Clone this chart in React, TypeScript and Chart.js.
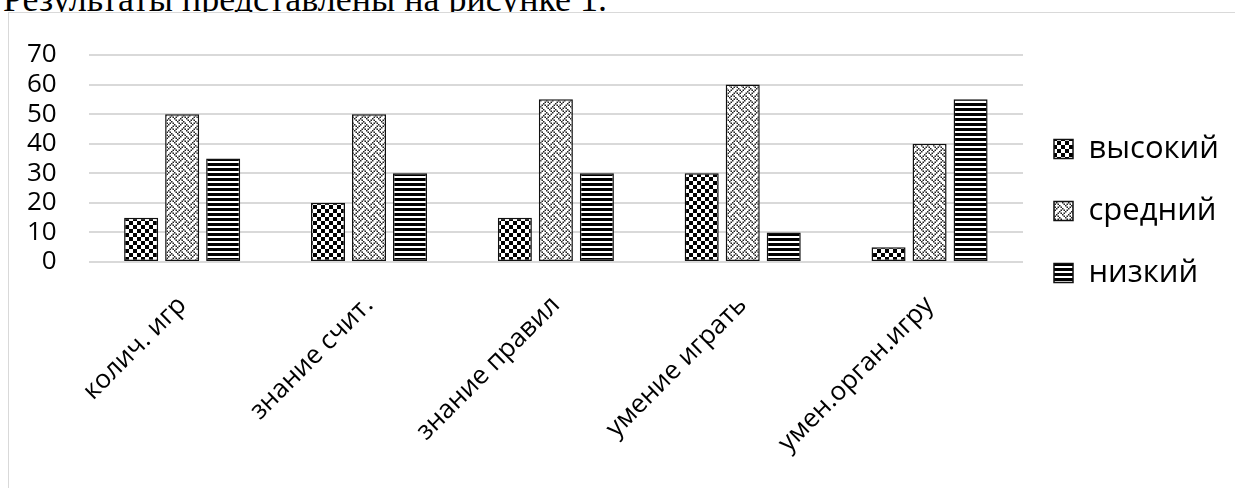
import React, { useEffect, useRef } from 'react';
import { Chart, registerables } from 'chart.js';

Chart.register(...registerables);

const categories = ['колич. игр', 'знание счит.', 'знание правил', 'умение играть', 'умен.орган.игру'];
const seriesNames = ['высокий', 'средний', 'низкий'];
const highValues = [15, 20, 15, 30, 5];
const midValues = [50, 50, 55, 60, 40];
const lowValues = [35, 30, 30, 10, 55];
const yTicks = [0, 10, 20, 30, 40, 50, 60, 70];

const weaveBits = [
  '10001000',
  '01010100',
  '00100010',
  '01000101',
  '10001000',
  '00010101',
  '00100010',
  '01010001',
];

function makeTile(w: number, h: number, draw: (g: CanvasRenderingContext2D) => void) {
  const c = document.createElement('canvas');
  c.width = w;
  c.height = h;
  const g = c.getContext('2d') as CanvasRenderingContext2D;
  g.fillStyle = '#ffffff';
  g.fillRect(0, 0, w, h);
  draw(g);
  return c;
}

function makePatterns(ctx: CanvasRenderingContext2D) {
  const checker = makeTile(8, 8, (g) => {
    g.fillStyle = '#000000';
    g.fillRect(0, 0, 4, 4);
    g.fillRect(4, 4, 4, 4);
  });
  const weave = makeTile(12, 12, (g) => {
    g.fillStyle = '#222222';
    weaveBits.forEach((row, r) => {
      for (let c = 0; c < row.length; c++) {
        if (row[c] === '1') g.fillRect(c * 1.5, r * 1.5, 1.5, 1.5);
      }
    });
  });
  const stripes = makeTile(4, 5, (g) => {
    g.fillStyle = '#000000';
    g.fillRect(0, 0, 4, 3);
  });
  return [
    ctx.createPattern(checker, 'repeat'),
    ctx.createPattern(weave, 'repeat'),
    ctx.createPattern(stripes, 'repeat'),
  ];
}

export default function App() {
  const ref = useRef<HTMLCanvasElement | null>(null);

  useEffect(() => {
    const canvas = ref.current;
    if (!canvas) return;
    const ctx = canvas.getContext('2d') as CanvasRenderingContext2D;
    const patterns = makePatterns(ctx);
    const values = [highValues, midValues, lowValues];

    const chart = new Chart(ctx, {
      type: 'bar',
      data: {
        labels: categories,
        datasets: seriesNames.map((name, i) => ({
          label: name,
          data: values[i],
          backgroundColor: patterns[i] as any,
          borderColor: '#111111',
          borderWidth: 1.5,
          borderSkipped: false,
          categoryPercentage: 0.6585,
          barPercentage: 0.83,
        })),
      },
      options: {
        responsive: false,
        animation: false,
        devicePixelRatio: 1,
        layout: { padding: { left: 18, top: 42, right: 31, bottom: 19 } },
        font: { family: '"Open Sans", sans-serif', size: 26 },
        color: '#000000',
        scales: {
          x: {
            grid: { display: false, drawTicks: false },
            border: { display: false },
            ticks: {
              color: '#000000',
              font: { family: '"Open Sans", sans-serif', size: 26 },
              minRotation: 45,
              maxRotation: 45,
              padding: 28,
              autoSkip: false,
            },
          },
          y: {
            min: 0,
            max: 70,
            afterBuildTicks: (axis: any) => {
              axis.ticks = yTicks.map((v) => ({ value: v }));
            },
            grid: {
              color: '#d9d9d9',
              lineWidth: 2,
              drawTicks: true,
              tickLength: 32,
              tickColor: 'rgba(0,0,0,0)',
            },
            border: { display: false },
            ticks: {
              color: '#000000',
              font: { family: '"Open Sans", sans-serif', size: 26 },
              padding: 0,
              autoSkip: false,
            },
          },
        },
        plugins: {
          tooltip: { enabled: false },
          legend: {
            position: 'right',
            align: 'start',
            maxWidth: 195,
            title: {
              display: true,
              text: '',
              color: 'rgba(0,0,0,0)',
              font: { size: 10, lineHeight: 1 },
              padding: { top: 20, bottom: 17.5 },
            },
            labels: {
              color: '#000000',
              font: { family: '"Open Sans", sans-serif', size: 31 },
              boxWidth: 19,
              boxHeight: 19,
              padding: 31,
            },
          },
        },
      } as any,
    });
    return () => chart.destroy();
  }, []);

  return (
    <div
      style={{
        position: 'absolute',
        left: 0,
        top: 0,
        width: 1235,
        height: 488,
        overflow: 'hidden',
        background: '#ffffff',
      }}
    >
      <div
        style={{
          position: 'absolute',
          left: 3,
          top: -19,
          fontFamily: '"Liberation Serif", "Times New Roman", serif',
          fontSize: 36,
          lineHeight: '36px',
          whiteSpace: 'nowrap',
          color: '#000000',
        }}
      >
        Результаты представлены на рисунке 1.
      </div>
      <div
        style={{
          position: 'absolute',
          left: 8,
          top: 12,
          width: 1300,
          height: 600,
          border: '1px solid #d9d9d9',
          boxSizing: 'border-box',
          background: '#ffffff',
        }}
      >
        <canvas
          ref={ref}
          width={1240}
          height={475}
          style={{ position: 'absolute', left: 0, top: 0, width: 1240, height: 475, display: 'block' }}
        />
      </div>
    </div>
  );
}
